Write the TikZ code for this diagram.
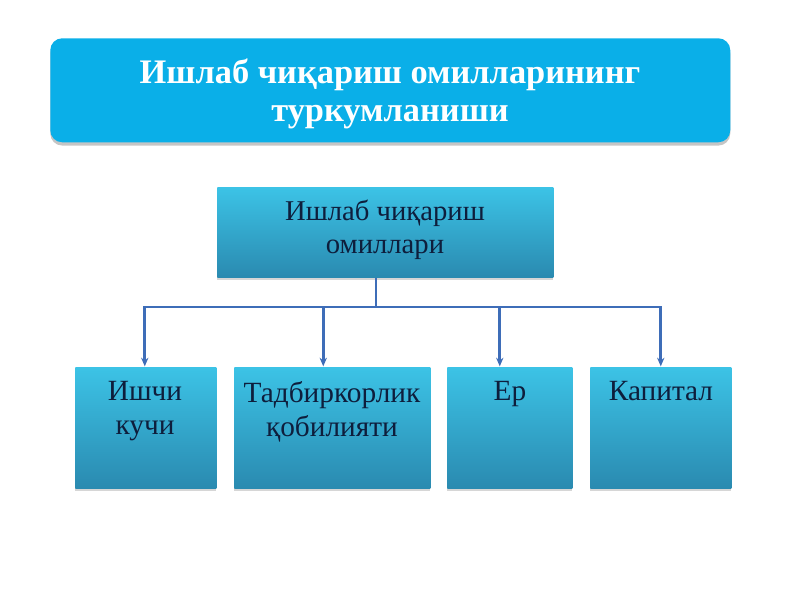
\documentclass[tikz,border=0pt]{standalone}
\usepackage{fontspec}
\setmainfont{Liberation Serif}
\usetikzlibrary{shadows,calc,arrows.meta}
\definecolor{titlebg}{HTML}{0AAFE8}
\definecolor{boxtop}{HTML}{3CC3E6}
\definecolor{boxbot}{HTML}{2A8AB0}
\definecolor{ink}{HTML}{0E1E3C}
\definecolor{conn}{HTML}{3E6DB8}
\tikzset{
  titlebox/.style={rounded corners=9pt, fill=titlebg, minimum width=510pt, minimum height=78pt, anchor=north west, inner sep=0pt,
    drop shadow={shadow xshift=0pt, shadow yshift=-2.5pt, fill=black!45, opacity=0.5}},
  gbox/.style={top color=boxtop, bottom color=boxbot, anchor=north west, inner sep=0pt,
    drop shadow={shadow xshift=0pt, shadow yshift=-2pt, fill=black!40, opacity=0.4}},
  boxtext/.style={anchor=north, align=center, text=ink, font=\fontsize{22}{25.5}\selectfont, inner sep=0pt},
  conline/.style={draw=conn, line width=2.2pt},
  arr/.style={conline, -{Stealth[length=6.5pt,width=5.5pt]}, shorten >=0.5pt}
}
\begin{document}
\begin{tikzpicture}[x=0.75pt,y=-0.75pt]
\useasboundingbox (0,0) rectangle (800,600);
\node[titlebox] (title) at (50,38) {};
\node[align=center, text=white, font=\bfseries\fontsize{25.8}{28.5}\selectfont, inner sep=0pt] (titletext) at (390,94)
  {Ишлаб чиқариш омилларининг\\туркумланиши};

\node[gbox, minimum width=252pt, minimum height=67.5pt] (mid) at (217,187) {};
\node[boxtext, font=\fontsize{21.5}{24.75}\selectfont] (midtext) at (385,200) {Ишлаб чиқариш\\омиллари};

\node[gbox, minimum width=105.75pt, minimum height=90.75pt] (b1) at (75,367) {};
\node[gbox, minimum width=147pt, minimum height=90.75pt] (b2) at (234,367) {};
\node[gbox, minimum width=93.75pt, minimum height=90.75pt] (b3) at (447,367) {};
\node[gbox, minimum width=105.75pt, minimum height=90.75pt] (b4) at (590,367) {};

\node[boxtext] (t1) at (145,381) {Ишчи\\кучи};
\node[boxtext] (t2) at (332,381) {Тадбиркорлик\\қобилияти};
\node[boxtext] (t3) at (510,381) {Ер};
\node[boxtext] (t4) at (661,381) {Капитал};

\coordinate (bus) at (376,307);
\coordinate (jn) at (mid.south -| bus);
\draw[conline] (jn) -- (bus);
\draw[conline] (147,307) -- (660,307);
\draw[arr] (bus) -| ([xshift=-0.75pt]b1.north);
\draw[arr] (bus) -| ([xshift=-6.75pt]b2.north);
\draw[arr] (bus) -| ([xshift=-7.5pt]b3.north);
\draw[arr] (bus) -| (b4.north);
\end{tikzpicture}
\end{document}
